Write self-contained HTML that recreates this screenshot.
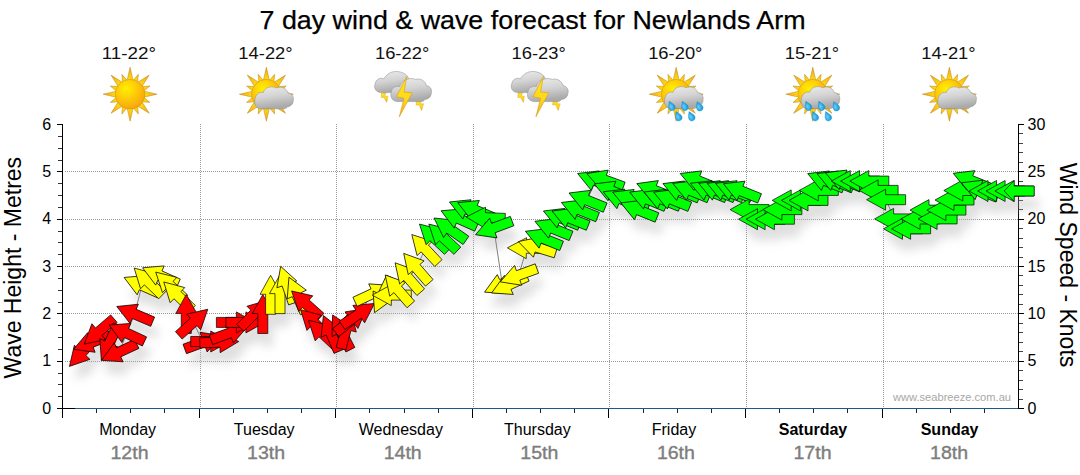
<!DOCTYPE html>
<html><head><meta charset="utf-8"><title>7 day wind &amp; wave forecast for Newlands Arm</title>
<style>html,body{margin:0;padding:0;background:#fff;}body{width:1080px;height:475px;overflow:hidden;font-family:"Liberation Sans",sans-serif;}svg{display:block}text{font-family:"Liberation Sans",sans-serif;}</style>
</head><body>
<svg width="1080" height="475" viewBox="0 0 1080 475">
<defs>
<filter id="sh" x="-5%" y="-30%" width="110%" height="160%"><feGaussianBlur stdDeviation="5"/></filter>
<path id="ar" d="M15,0 L5,-10.5 L5,-5 L-15,-5 L-15,5 L5,5 L5,10.5 Z"/>
<radialGradient id="gsun" cx="0.38" cy="0.32" r="0.75"><stop offset="0" stop-color="#fff000"/><stop offset="0.45" stop-color="#ffcb08"/><stop offset="1" stop-color="#f5a010"/></radialGradient><radialGradient id="gray" gradientUnits="userSpaceOnUse" cx="0" cy="0" r="27"><stop offset="0.5" stop-color="#ffdc18"/><stop offset="0.78" stop-color="#fbbc14"/><stop offset="1" stop-color="#f09c10"/></radialGradient><linearGradient id="gcl" x1="0" y1="0" x2="0.25" y2="1"><stop offset="0" stop-color="#ececec"/><stop offset="0.5" stop-color="#d4d4d4"/><stop offset="1" stop-color="#aaaaaa"/></linearGradient><linearGradient id="gbolt" x1="0" y1="0" x2="0" y2="1"><stop offset="0" stop-color="#ffe31a"/><stop offset="0.55" stop-color="#ffd91a"/><stop offset="1" stop-color="#f2a81c"/></linearGradient><radialGradient id="gdrop" cx="0.4" cy="0.55" r="0.7"><stop offset="0" stop-color="#6fd0f5"/><stop offset="0.6" stop-color="#22a6e4"/><stop offset="1" stop-color="#0f86c8"/></radialGradient><filter id="isoft" x="-10%" y="-10%" width="120%" height="120%"><feGaussianBlur stdDeviation="0.35"/></filter><g id="sun"><path d="M-3.03,-13.87 L0.00,-27.00 L3.03,-13.87 L3.14,-13.85 L8.23,-19.86 L7.58,-12.01 L7.67,-11.95 L19.09,-19.09 L11.95,-7.67 L12.01,-7.58 L19.86,-8.23 L13.85,-3.14 L13.87,-3.03 L27.00,0.00 L13.87,3.03 L13.85,3.14 L19.86,8.23 L12.01,7.58 L11.95,7.67 L19.09,19.09 L7.67,11.95 L7.58,12.01 L8.23,19.86 L3.14,13.85 L3.03,13.87 L0.00,27.00 L-3.03,13.87 L-3.14,13.85 L-8.23,19.86 L-7.58,12.01 L-7.67,11.95 L-19.09,19.09 L-11.95,7.67 L-12.01,7.58 L-19.86,8.23 L-13.85,3.14 L-13.87,3.03 L-27.00,0.00 L-13.87,-3.03 L-13.85,-3.14 L-19.86,-8.23 L-12.01,-7.58 L-11.95,-7.67 L-19.09,-19.09 L-7.67,-11.95 L-7.58,-12.01 L-8.23,-19.86 L-3.14,-13.85Z" fill="url(#gray)" stroke="#b88a18" stroke-width="0.5" stroke-linejoin="miter"/><circle r="14.8" fill="url(#gsun)" stroke="#c89018" stroke-width="0.5"/></g><path id="cloud" d="M-4.5,14.6 C-9.5,14.6 -11.6,10.5 -11,6 C-10.6,0.5 -6.5,-3 -2.6,-1.6 C-1.2,-6.8 5.5,-8.8 10.5,-6.2 C14,-8 20.5,-7 22.2,-1.2 C26.2,-0.8 28.4,2.8 27.4,6.2 C27.6,10 24.5,12.2 21.8,12.6 C20.8,14.2 19,14.6 17.5,14.6 Z" fill="url(#gcl)" stroke="#8a8a8a" stroke-width="0.5"/><path id="drop" d="M0,-4.6 C1.2,-2.4 3,-0.6 3,1.6 C3,3.4 1.7,4.6 0,4.6 C-1.7,4.6 -3,3.4 -3,1.6 C-3,-0.6 -1.2,-2.4 0,-4.6Z" fill="url(#gdrop)" stroke="#1480c0" stroke-width="0.3" transform="rotate(-25) scale(1.08)"/><g id="thunder"><path d="M-21.5,-1.2 L-17,-1.2 L-18.4,2.2 L-15.2,2.2 L-16.2,8.4 L-19,3.4 L-21.8,3.4 Z" fill="url(#gbolt)" stroke="#d8a020" stroke-width="0.4"/><path d="M-22,-1.4 C-27,-1.6 -29.6,-6 -27.8,-10.2 C-27.4,-14.6 -22.6,-16.8 -19,-15.2 C-16.4,-21 -8.6,-24.4 -1.4,-21.6 C3.4,-20.4 6.2,-16.4 6.4,-12 C8,-6 4,-1.4 -1,-1.4 Z" fill="url(#gcl)" stroke="#8a8a8a" stroke-width="0.5"/><path d="M13.4,7 L18.4,7 L17.2,9.8 L20.6,9.8 L18.6,16.6 L16.2,11 L13,11 Z" fill="url(#gbolt)" stroke="#d8a020" stroke-width="0.4"/><path d="M-5,7.6 C-10.6,7.6 -13.2,3 -11.8,-1.4 C-11.4,-6 -7.4,-8.6 -3.4,-7.4 C-1.6,-13 5.4,-17.4 12.6,-14.6 C16.6,-16 22.4,-13.6 23.4,-8.4 C27.6,-7.8 29.6,-3.6 28.2,-0.2 C28,3 25,5.4 22,5.4 C21,7.2 18.6,7.6 17,7.6 Z" fill="url(#gcl)" stroke="#8a8a8a" stroke-width="0.5"/><path d="M3.8,-17.6 L-6.6,2.7 L1,4.3 L-3.7,22.8 L9.2,-1.2 L1,-1.9 Z" fill="url(#gbolt)" stroke="#d89c18" stroke-width="0.6" stroke-linejoin="round"/></g>
</defs>
<rect width="1080" height="475" fill="#fff"/>
<g stroke="#989898" stroke-width="1" stroke-dasharray="1 1" shape-rendering="crispEdges"><line x1="200.5" y1="124" x2="200.5" y2="408"/><line x1="336.5" y1="124" x2="336.5" y2="408"/><line x1="473.5" y1="124" x2="473.5" y2="408"/><line x1="609.5" y1="124" x2="609.5" y2="408"/><line x1="746.5" y1="124" x2="746.5" y2="408"/><line x1="883.5" y1="124" x2="883.5" y2="408"/><line x1="65" y1="361.5" x2="1018" y2="361.5"/><line x1="65" y1="313.5" x2="1018" y2="313.5"/><line x1="65" y1="266.5" x2="1018" y2="266.5"/><line x1="65" y1="219.5" x2="1018" y2="219.5"/><line x1="65" y1="171.5" x2="1018" y2="171.5"/></g>
<text x="1011" y="401" text-anchor="end" font-size="11" fill="#a8a8a8" textLength="118" lengthAdjust="spacingAndGlyphs">www.seabreeze.com.au</text>
<g shape-rendering="crispEdges"><rect x="62" y="124" width="1" height="285" fill="#000"/><rect x="57" y="408" width="5" height="1" fill="#000"/><rect x="58" y="396" width="4" height="1" fill="#333"/><rect x="58" y="384" width="4" height="1" fill="#333"/><rect x="58" y="373" width="4" height="1" fill="#333"/><rect x="57" y="361" width="5" height="1" fill="#000"/><rect x="58" y="349" width="4" height="1" fill="#333"/><rect x="58" y="337" width="4" height="1" fill="#333"/><rect x="58" y="325" width="4" height="1" fill="#333"/><rect x="57" y="313" width="5" height="1" fill="#000"/><rect x="58" y="302" width="4" height="1" fill="#333"/><rect x="58" y="290" width="4" height="1" fill="#333"/><rect x="58" y="278" width="4" height="1" fill="#333"/><rect x="57" y="266" width="5" height="1" fill="#000"/><rect x="58" y="254" width="4" height="1" fill="#333"/><rect x="58" y="242" width="4" height="1" fill="#333"/><rect x="58" y="231" width="4" height="1" fill="#333"/><rect x="57" y="219" width="5" height="1" fill="#000"/><rect x="58" y="207" width="4" height="1" fill="#333"/><rect x="58" y="195" width="4" height="1" fill="#333"/><rect x="58" y="183" width="4" height="1" fill="#333"/><rect x="57" y="171" width="5" height="1" fill="#000"/><rect x="58" y="160" width="4" height="1" fill="#333"/><rect x="58" y="148" width="4" height="1" fill="#333"/><rect x="58" y="136" width="4" height="1" fill="#333"/><rect x="57" y="124" width="5" height="1" fill="#000"/><rect x="1018" y="124" width="1" height="285" fill="#000"/><rect x="1019" y="408" width="5" height="1" fill="#000"/><rect x="1019" y="399" width="4" height="1" fill="#444"/><rect x="1019" y="389" width="4" height="1" fill="#444"/><rect x="1019" y="380" width="4" height="1" fill="#444"/><rect x="1019" y="370" width="4" height="1" fill="#444"/><rect x="1019" y="361" width="5" height="1" fill="#000"/><rect x="1019" y="351" width="4" height="1" fill="#444"/><rect x="1019" y="342" width="4" height="1" fill="#444"/><rect x="1019" y="332" width="4" height="1" fill="#444"/><rect x="1019" y="323" width="4" height="1" fill="#444"/><rect x="1019" y="313" width="5" height="1" fill="#000"/><rect x="1019" y="304" width="4" height="1" fill="#444"/><rect x="1019" y="294" width="4" height="1" fill="#444"/><rect x="1019" y="285" width="4" height="1" fill="#444"/><rect x="1019" y="275" width="4" height="1" fill="#444"/><rect x="1019" y="266" width="5" height="1" fill="#000"/><rect x="1019" y="257" width="4" height="1" fill="#444"/><rect x="1019" y="247" width="4" height="1" fill="#444"/><rect x="1019" y="238" width="4" height="1" fill="#444"/><rect x="1019" y="228" width="4" height="1" fill="#444"/><rect x="1019" y="219" width="5" height="1" fill="#000"/><rect x="1019" y="209" width="4" height="1" fill="#444"/><rect x="1019" y="200" width="4" height="1" fill="#444"/><rect x="1019" y="190" width="4" height="1" fill="#444"/><rect x="1019" y="181" width="4" height="1" fill="#444"/><rect x="1019" y="171" width="5" height="1" fill="#000"/><rect x="1019" y="162" width="4" height="1" fill="#444"/><rect x="1019" y="152" width="4" height="1" fill="#444"/><rect x="1019" y="143" width="4" height="1" fill="#444"/><rect x="1019" y="133" width="4" height="1" fill="#444"/><rect x="1019" y="124" width="5" height="1" fill="#000"/><rect x="57" y="408" width="961" height="1" fill="#000"/><rect x="75" y="407.8" width="943" height="1.3" fill="#1d5a88"/><rect x="62" y="409" width="1" height="9" fill="#000"/><rect x="96" y="409" width="1" height="4" fill="#222"/><rect x="130" y="409" width="1" height="4" fill="#222"/><rect x="164" y="409" width="1" height="4" fill="#222"/><rect x="199" y="409" width="1" height="9" fill="#000"/><rect x="233" y="409" width="1" height="4" fill="#222"/><rect x="267" y="409" width="1" height="4" fill="#222"/><rect x="301" y="409" width="1" height="4" fill="#222"/><rect x="335" y="409" width="1" height="9" fill="#000"/><rect x="369" y="409" width="1" height="4" fill="#222"/><rect x="404" y="409" width="1" height="4" fill="#222"/><rect x="438" y="409" width="1" height="4" fill="#222"/><rect x="472" y="409" width="1" height="9" fill="#000"/><rect x="506" y="409" width="1" height="4" fill="#222"/><rect x="540" y="409" width="1" height="4" fill="#222"/><rect x="574" y="409" width="1" height="4" fill="#222"/><rect x="608" y="409" width="1" height="9" fill="#000"/><rect x="643" y="409" width="1" height="4" fill="#222"/><rect x="677" y="409" width="1" height="4" fill="#222"/><rect x="711" y="409" width="1" height="4" fill="#222"/><rect x="745" y="409" width="1" height="9" fill="#000"/><rect x="779" y="409" width="1" height="4" fill="#222"/><rect x="813" y="409" width="1" height="4" fill="#222"/><rect x="847" y="409" width="1" height="4" fill="#222"/><rect x="882" y="409" width="1" height="9" fill="#000"/><rect x="916" y="409" width="1" height="4" fill="#222"/><rect x="950" y="409" width="1" height="4" fill="#222"/><rect x="984" y="409" width="1" height="4" fill="#222"/></g>
<g font-size="16" fill="#000"><text x="51.2" y="413.5" text-anchor="end">0</text><text x="1027.5" y="413.5">0</text><text x="51.2" y="366.2" text-anchor="end">1</text><text x="1027.5" y="366.2">5</text><text x="51.2" y="318.8" text-anchor="end">2</text><text x="1027.5" y="318.8">10</text><text x="51.2" y="271.5" text-anchor="end">3</text><text x="1027.5" y="271.5">15</text><text x="51.2" y="224.2" text-anchor="end">4</text><text x="1027.5" y="224.2">20</text><text x="51.2" y="176.8" text-anchor="end">5</text><text x="1027.5" y="176.8">25</text><text x="51.2" y="129.5" text-anchor="end">6</text><text x="1027.5" y="129.5">30</text></g>
<text transform="translate(20.5,267.7) rotate(-90)" text-anchor="middle" font-size="23" fill="#000">Wave Height - Metres</text>
<text transform="translate(1060,265) rotate(90)" text-anchor="middle" font-size="23" fill="#000">Wind Speed - Knots</text>
<text x="259.5" y="28.6" font-size="26.5" fill="#000" stroke="#000" stroke-width="0.25" textLength="546" lengthAdjust="spacingAndGlyphs">7 day wind &amp; wave forecast for Newlands Arm</text>
<text x="127.6" y="435.3" text-anchor="middle" font-size="16" fill="#000">Monday</text>
<text x="129.5" y="459.1" text-anchor="middle" font-size="17.5" fill="#7d7d7d" stroke="#7d7d7d" stroke-width="0.35" textLength="38" lengthAdjust="spacingAndGlyphs">12th</text>
<text x="128.9" y="59" text-anchor="middle" font-size="16.2" fill="#111" textLength="54.3" lengthAdjust="spacingAndGlyphs">11-22°</text>
<use href="#sun" x="130.1" y="94.2"/>
<text x="264.2" y="435.3" text-anchor="middle" font-size="16" fill="#000">Tuesday</text>
<text x="266.1" y="459.1" text-anchor="middle" font-size="17.5" fill="#7d7d7d" stroke="#7d7d7d" stroke-width="0.35" textLength="38" lengthAdjust="spacingAndGlyphs">13th</text>
<text x="265.5" y="59" text-anchor="middle" font-size="16.2" fill="#111" textLength="54.3" lengthAdjust="spacingAndGlyphs">14-22°</text>
<use href="#sun" x="266.4" y="94.2"/><use href="#cloud" x="265.8" y="94.2"/>
<text x="400.8" y="435.3" text-anchor="middle" font-size="16" fill="#000">Wednesday</text>
<text x="402.7" y="459.1" text-anchor="middle" font-size="17.5" fill="#7d7d7d" stroke="#7d7d7d" stroke-width="0.35" textLength="38" lengthAdjust="spacingAndGlyphs">14th</text>
<text x="402.1" y="59" text-anchor="middle" font-size="16.2" fill="#111" textLength="54.3" lengthAdjust="spacingAndGlyphs">16-22°</text>
<use href="#thunder" x="403.0" y="94"/>
<text x="537.4" y="435.3" text-anchor="middle" font-size="16" fill="#000">Thursday</text>
<text x="539.3" y="459.1" text-anchor="middle" font-size="17.5" fill="#7d7d7d" stroke="#7d7d7d" stroke-width="0.35" textLength="38" lengthAdjust="spacingAndGlyphs">15th</text>
<text x="538.7" y="59" text-anchor="middle" font-size="16.2" fill="#111" textLength="54.3" lengthAdjust="spacingAndGlyphs">16-23°</text>
<use href="#thunder" x="539.6" y="94"/>
<text x="674.0" y="435.3" text-anchor="middle" font-size="16" fill="#000">Friday</text>
<text x="675.9" y="459.1" text-anchor="middle" font-size="17.5" fill="#7d7d7d" stroke="#7d7d7d" stroke-width="0.35" textLength="38" lengthAdjust="spacingAndGlyphs">16th</text>
<text x="675.3" y="59" text-anchor="middle" font-size="16.2" fill="#111" textLength="54.3" lengthAdjust="spacingAndGlyphs">16-20°</text>
<use href="#sun" x="676.2" y="94.2"/><use href="#cloud" x="675.6" y="93.9"/><use href="#drop" x="0" y="0" transform="translate(671.3,105.8)"/><use href="#drop" x="0" y="0" transform="translate(684.3,105.8)"/><use href="#drop" x="0" y="0" transform="translate(699.1,106.2)"/><use href="#drop" x="0" y="0" transform="translate(678.1,116.1)"/><use href="#drop" x="0" y="0" transform="translate(691.1,116.1)"/>
<text x="813.0" y="435.3" text-anchor="middle" font-size="16" fill="#000" font-weight="bold">Saturday</text>
<text x="812.5" y="459.1" text-anchor="middle" font-size="17.5" fill="#7d7d7d" stroke="#7d7d7d" stroke-width="0.35" textLength="38" lengthAdjust="spacingAndGlyphs">17th</text>
<text x="811.9" y="59" text-anchor="middle" font-size="16.2" fill="#111" textLength="54.3" lengthAdjust="spacingAndGlyphs">15-21°</text>
<use href="#sun" x="812.8000000000001" y="94.2"/><use href="#cloud" x="812.2" y="93.9"/><use href="#drop" x="0" y="0" transform="translate(807.9,105.8)"/><use href="#drop" x="0" y="0" transform="translate(820.9,105.8)"/><use href="#drop" x="0" y="0" transform="translate(835.7,106.2)"/><use href="#drop" x="0" y="0" transform="translate(814.7,116.1)"/><use href="#drop" x="0" y="0" transform="translate(827.7,116.1)"/>
<text x="949.6" y="435.3" text-anchor="middle" font-size="16" fill="#000" font-weight="bold">Sunday</text>
<text x="949.1" y="459.1" text-anchor="middle" font-size="17.5" fill="#7d7d7d" stroke="#7d7d7d" stroke-width="0.35" textLength="38" lengthAdjust="spacingAndGlyphs">18th</text>
<text x="948.5" y="59" text-anchor="middle" font-size="16.2" fill="#111" textLength="54.3" lengthAdjust="spacingAndGlyphs">14-21°</text>
<use href="#sun" x="949.4000000000001" y="94.2"/><use href="#cloud" x="948.8000000000001" y="94.2"/>
<g fill="#b0b0b0" opacity="0.4" filter="url(#sh)"><path d="M19.5,0 L0.5,-10.5 L0.5,-5 L-19.5,-5 L-19.5,5 L0.5,5 L0.5,10.5 Z" transform="translate(87.5,364.9) rotate(132)"/><path d="M19.5,0 L0.5,-10.5 L0.5,-5 L-19.5,-5 L-19.5,5 L0.5,5 L0.5,10.5 Z" transform="translate(96.8,355.3) rotate(159)"/><path d="M19.5,0 L0.5,-10.5 L0.5,-5 L-19.5,-5 L-19.5,5 L0.5,5 L0.5,10.5 Z" transform="translate(104.1,344.4) rotate(139.5)"/><path d="M19.5,0 L0.5,-10.5 L0.5,-5 L-19.5,-5 L-19.5,5 L0.5,5 L0.5,10.5 Z" transform="translate(114.6,355.6) rotate(115)"/><path d="M19.5,0 L0.5,-10.5 L0.5,-5 L-19.5,-5 L-19.5,5 L0.5,5 L0.5,10.5 Z" transform="translate(124.1,365.1) rotate(155)"/><path d="M19.5,0 L0.5,-10.5 L0.5,-5 L-19.5,-5 L-19.5,5 L0.5,5 L0.5,10.5 Z" transform="translate(131.8,346.2) rotate(205)"/><path d="M19.5,0 L0.5,-10.5 L0.5,-5 L-19.5,-5 L-19.5,5 L0.5,5 L0.5,10.5 Z" transform="translate(139.7,327.1) rotate(203)"/><path d="M19.5,0 L0.5,-10.5 L0.5,-5 L-19.5,-5 L-19.5,5 L0.5,5 L0.5,10.5 Z" transform="translate(146.9,298.4) rotate(204)"/><path d="M19.5,0 L0.5,-10.5 L0.5,-5 L-19.5,-5 L-19.5,5 L0.5,5 L0.5,10.5 Z" transform="translate(153.2,294.6) rotate(224)"/><path d="M19.5,0 L0.5,-10.5 L0.5,-5 L-19.5,-5 L-19.5,5 L0.5,5 L0.5,10.5 Z" transform="translate(165.4,288.7) rotate(204)"/><path d="M19.5,0 L0.5,-10.5 L0.5,-5 L-19.5,-5 L-19.5,5 L0.5,5 L0.5,10.5 Z" transform="translate(175.0,298.4) rotate(223)"/><path d="M19.5,0 L0.5,-10.5 L0.5,-5 L-19.5,-5 L-19.5,5 L0.5,5 L0.5,10.5 Z" transform="translate(182.8,308.5) rotate(224)"/><path d="M19.5,0 L0.5,-10.5 L0.5,-5 L-19.5,-5 L-19.5,5 L0.5,5 L0.5,10.5 Z" transform="translate(191.3,326.9) rotate(270)"/><path d="M19.5,0 L0.5,-10.5 L0.5,-5 L-19.5,-5 L-19.5,5 L0.5,5 L0.5,10.5 Z" transform="translate(198.3,335.3) rotate(318)"/><path d="M19.5,0 L0.5,-10.5 L0.5,-5 L-19.5,-5 L-19.5,5 L0.5,5 L0.5,10.5 Z" transform="translate(208.1,355.3) rotate(340)"/><path d="M19.5,0 L0.5,-10.5 L0.5,-5 L-19.5,-5 L-19.5,5 L0.5,5 L0.5,10.5 Z" transform="translate(215.2,354.5) rotate(0)"/><path d="M19.5,0 L0.5,-10.5 L0.5,-5 L-19.5,-5 L-19.5,5 L0.5,5 L0.5,10.5 Z" transform="translate(224.3,355.2) rotate(358)"/><path d="M19.5,0 L0.5,-10.5 L0.5,-5 L-19.5,-5 L-19.5,5 L0.5,5 L0.5,10.5 Z" transform="translate(234.3,346.2) rotate(340)"/><path d="M19.5,0 L0.5,-10.5 L0.5,-5 L-19.5,-5 L-19.5,5 L0.5,5 L0.5,10.5 Z" transform="translate(240.9,335.4) rotate(0)"/><path d="M19.5,0 L0.5,-10.5 L0.5,-5 L-19.5,-5 L-19.5,5 L0.5,5 L0.5,10.5 Z" transform="translate(250.4,335.4) rotate(0)"/><path d="M19.5,0 L0.5,-10.5 L0.5,-5 L-19.5,-5 L-19.5,5 L0.5,5 L0.5,10.5 Z" transform="translate(259.0,327.0) rotate(315)"/><path d="M19.5,0 L0.5,-10.5 L0.5,-5 L-19.5,-5 L-19.5,5 L0.5,5 L0.5,10.5 Z" transform="translate(267.8,327.0) rotate(270)"/><path d="M19.5,0 L0.5,-10.5 L0.5,-5 L-19.5,-5 L-19.5,5 L0.5,5 L0.5,10.5 Z" transform="translate(275.6,307.8) rotate(270)"/><path d="M19.5,0 L0.5,-10.5 L0.5,-5 L-19.5,-5 L-19.5,5 L0.5,5 L0.5,10.5 Z" transform="translate(285.0,307.1) rotate(270)"/><path d="M19.5,0 L0.5,-10.5 L0.5,-5 L-19.5,-5 L-19.5,5 L0.5,5 L0.5,10.5 Z" transform="translate(292.0,297.8) rotate(251)"/><path d="M19.5,0 L0.5,-10.5 L0.5,-5 L-19.5,-5 L-19.5,5 L0.5,5 L0.5,10.5 Z" transform="translate(302.0,308.0) rotate(245.6)"/><path d="M19.5,0 L0.5,-10.5 L0.5,-5 L-19.5,-5 L-19.5,5 L0.5,5 L0.5,10.5 Z" transform="translate(311.1,317.0) rotate(222)"/><path d="M19.5,0 L0.5,-10.5 L0.5,-5 L-19.5,-5 L-19.5,5 L0.5,5 L0.5,10.5 Z" transform="translate(319.6,336.2) rotate(224)"/><path d="M19.5,0 L0.5,-10.5 L0.5,-5 L-19.5,-5 L-19.5,5 L0.5,5 L0.5,10.5 Z" transform="translate(327.7,346.5) rotate(223)"/><path d="M19.5,0 L0.5,-10.5 L0.5,-5 L-19.5,-5 L-19.5,5 L0.5,5 L0.5,10.5 Z" transform="translate(336.0,346.5) rotate(247)"/><path d="M19.5,0 L0.5,-10.5 L0.5,-5 L-19.5,-5 L-19.5,5 L0.5,5 L0.5,10.5 Z" transform="translate(346.5,345.3) rotate(243)"/><path d="M19.5,0 L0.5,-10.5 L0.5,-5 L-19.5,-5 L-19.5,5 L0.5,5 L0.5,10.5 Z" transform="translate(351.0,342.8) rotate(285)"/><path d="M19.5,0 L0.5,-10.5 L0.5,-5 L-19.5,-5 L-19.5,5 L0.5,5 L0.5,10.5 Z" transform="translate(356.1,333.5) rotate(322)"/><path d="M19.5,0 L0.5,-10.5 L0.5,-5 L-19.5,-5 L-19.5,5 L0.5,5 L0.5,10.5 Z" transform="translate(363.3,327.4) rotate(326)"/><path d="M19.5,0 L0.5,-10.5 L0.5,-5 L-19.5,-5 L-19.5,5 L0.5,5 L0.5,10.5 Z" transform="translate(377.7,306.6) rotate(335)"/><path d="M19.5,0 L0.5,-10.5 L0.5,-5 L-19.5,-5 L-19.5,5 L0.5,5 L0.5,10.5 Z" transform="translate(387.8,308.0) rotate(115)"/><path d="M19.5,0 L0.5,-10.5 L0.5,-5 L-19.5,-5 L-19.5,5 L0.5,5 L0.5,10.5 Z" transform="translate(396.8,308.1) rotate(180)"/><path d="M19.5,0 L0.5,-10.5 L0.5,-5 L-19.5,-5 L-19.5,5 L0.5,5 L0.5,10.5 Z" transform="translate(403.0,302.7) rotate(229)"/><path d="M19.5,0 L0.5,-10.5 L0.5,-5 L-19.5,-5 L-19.5,5 L0.5,5 L0.5,10.5 Z" transform="translate(412.9,290.5) rotate(229)"/><path d="M19.5,0 L0.5,-10.5 L0.5,-5 L-19.5,-5 L-19.5,5 L0.5,5 L0.5,10.5 Z" transform="translate(421.5,281.1) rotate(229)"/><path d="M19.5,0 L0.5,-10.5 L0.5,-5 L-19.5,-5 L-19.5,5 L0.5,5 L0.5,10.5 Z" transform="translate(430.1,261.8) rotate(227)"/><path d="M19.5,0 L0.5,-10.5 L0.5,-5 L-19.5,-5 L-19.5,5 L0.5,5 L0.5,10.5 Z" transform="translate(438.7,250.4) rotate(223)"/><path d="M19.5,0 L0.5,-10.5 L0.5,-5 L-19.5,-5 L-19.5,5 L0.5,5 L0.5,10.5 Z" transform="translate(448.1,250.4) rotate(223)"/><path d="M19.5,0 L0.5,-10.5 L0.5,-5 L-19.5,-5 L-19.5,5 L0.5,5 L0.5,10.5 Z" transform="translate(455.0,242.2) rotate(215)"/><path d="M19.5,0 L0.5,-10.5 L0.5,-5 L-19.5,-5 L-19.5,5 L0.5,5 L0.5,10.5 Z" transform="translate(463.9,231.7) rotate(204)"/><path d="M19.5,0 L0.5,-10.5 L0.5,-5 L-19.5,-5 L-19.5,5 L0.5,5 L0.5,10.5 Z" transform="translate(472.4,222.6) rotate(203)"/><path d="M19.5,0 L0.5,-10.5 L0.5,-5 L-19.5,-5 L-19.5,5 L0.5,5 L0.5,10.5 Z" transform="translate(480.7,223.3) rotate(203)"/><path d="M19.5,0 L0.5,-10.5 L0.5,-5 L-19.5,-5 L-19.5,5 L0.5,5 L0.5,10.5 Z" transform="translate(490.7,230.7) rotate(182)"/><path d="M19.5,0 L0.5,-10.5 L0.5,-5 L-19.5,-5 L-19.5,5 L0.5,5 L0.5,10.5 Z" transform="translate(498.8,240.9) rotate(159.5)"/><path d="M19.5,0 L0.5,-10.5 L0.5,-5 L-19.5,-5 L-19.5,5 L0.5,5 L0.5,10.5 Z" transform="translate(507.2,296.9) rotate(155)"/><path d="M19.5,0 L0.5,-10.5 L0.5,-5 L-19.5,-5 L-19.5,5 L0.5,5 L0.5,10.5 Z" transform="translate(514.3,297.7) rotate(155)"/><path d="M19.5,0 L0.5,-10.5 L0.5,-5 L-19.5,-5 L-19.5,5 L0.5,5 L0.5,10.5 Z" transform="translate(523.6,288.2) rotate(160)"/><path d="M19.5,0 L0.5,-10.5 L0.5,-5 L-19.5,-5 L-19.5,5 L0.5,5 L0.5,10.5 Z" transform="translate(531.9,261.2) rotate(181)"/><path d="M19.5,0 L0.5,-10.5 L0.5,-5 L-19.5,-5 L-19.5,5 L0.5,5 L0.5,10.5 Z" transform="translate(542.0,260.3) rotate(197)"/><path d="M19.5,0 L0.5,-10.5 L0.5,-5 L-19.5,-5 L-19.5,5 L0.5,5 L0.5,10.5 Z" transform="translate(548.5,251.6) rotate(202)"/><path d="M19.5,0 L0.5,-10.5 L0.5,-5 L-19.5,-5 L-19.5,5 L0.5,5 L0.5,10.5 Z" transform="translate(558.0,241.6) rotate(202)"/><path d="M19.5,0 L0.5,-10.5 L0.5,-5 L-19.5,-5 L-19.5,5 L0.5,5 L0.5,10.5 Z" transform="translate(566.5,231.3) rotate(202)"/><path d="M19.5,0 L0.5,-10.5 L0.5,-5 L-19.5,-5 L-19.5,5 L0.5,5 L0.5,10.5 Z" transform="translate(575.1,231.3) rotate(202)"/><path d="M19.5,0 L0.5,-10.5 L0.5,-5 L-19.5,-5 L-19.5,5 L0.5,5 L0.5,10.5 Z" transform="translate(584.5,222.8) rotate(202)"/><path d="M19.5,0 L0.5,-10.5 L0.5,-5 L-19.5,-5 L-19.5,5 L0.5,5 L0.5,10.5 Z" transform="translate(592.1,213.3) rotate(202)"/><path d="M19.5,0 L0.5,-10.5 L0.5,-5 L-19.5,-5 L-19.5,5 L0.5,5 L0.5,10.5 Z" transform="translate(600.7,193.8) rotate(202)"/><path d="M19.5,0 L0.5,-10.5 L0.5,-5 L-19.5,-5 L-19.5,5 L0.5,5 L0.5,10.5 Z" transform="translate(610.1,193.2) rotate(200)"/><path d="M19.5,0 L0.5,-10.5 L0.5,-5 L-19.5,-5 L-19.5,5 L0.5,5 L0.5,10.5 Z" transform="translate(617.4,204.2) rotate(202)"/><path d="M19.5,0 L0.5,-10.5 L0.5,-5 L-19.5,-5 L-19.5,5 L0.5,5 L0.5,10.5 Z" transform="translate(626.3,212.1) rotate(202)"/><path d="M19.5,0 L0.5,-10.5 L0.5,-5 L-19.5,-5 L-19.5,5 L0.5,5 L0.5,10.5 Z" transform="translate(635.7,212.4) rotate(202)"/><path d="M19.5,0 L0.5,-10.5 L0.5,-5 L-19.5,-5 L-19.5,5 L0.5,5 L0.5,10.5 Z" transform="translate(643.9,223.2) rotate(202)"/><path d="M19.5,0 L0.5,-10.5 L0.5,-5 L-19.5,-5 L-19.5,5 L0.5,5 L0.5,10.5 Z" transform="translate(652.8,212.4) rotate(202)"/><path d="M19.5,0 L0.5,-10.5 L0.5,-5 L-19.5,-5 L-19.5,5 L0.5,5 L0.5,10.5 Z" transform="translate(660.0,203.6) rotate(201)"/><path d="M19.5,0 L0.5,-10.5 L0.5,-5 L-19.5,-5 L-19.5,5 L0.5,5 L0.5,10.5 Z" transform="translate(667.1,212.3) rotate(202)"/><path d="M19.5,0 L0.5,-10.5 L0.5,-5 L-19.5,-5 L-19.5,5 L0.5,5 L0.5,10.5 Z" transform="translate(676.7,212.4) rotate(202)"/><path d="M19.5,0 L0.5,-10.5 L0.5,-5 L-19.5,-5 L-19.5,5 L0.5,5 L0.5,10.5 Z" transform="translate(686.0,203.9) rotate(202)"/><path d="M19.5,0 L0.5,-10.5 L0.5,-5 L-19.5,-5 L-19.5,5 L0.5,5 L0.5,10.5 Z" transform="translate(695.9,203.7) rotate(202)"/><path d="M19.5,0 L0.5,-10.5 L0.5,-5 L-19.5,-5 L-19.5,5 L0.5,5 L0.5,10.5 Z" transform="translate(703.3,193.8) rotate(202)"/><path d="M19.5,0 L0.5,-10.5 L0.5,-5 L-19.5,-5 L-19.5,5 L0.5,5 L0.5,10.5 Z" transform="translate(713.4,203.6) rotate(202)"/><path d="M19.5,0 L0.5,-10.5 L0.5,-5 L-19.5,-5 L-19.5,5 L0.5,5 L0.5,10.5 Z" transform="translate(721.8,203.6) rotate(202)"/><path d="M19.5,0 L0.5,-10.5 L0.5,-5 L-19.5,-5 L-19.5,5 L0.5,5 L0.5,10.5 Z" transform="translate(730.2,203.6) rotate(202)"/><path d="M19.5,0 L0.5,-10.5 L0.5,-5 L-19.5,-5 L-19.5,5 L0.5,5 L0.5,10.5 Z" transform="translate(738.6,203.6) rotate(202)"/><path d="M19.5,0 L0.5,-10.5 L0.5,-5 L-19.5,-5 L-19.5,5 L0.5,5 L0.5,10.5 Z" transform="translate(746.5,204.1) rotate(202)"/><path d="M19.5,0 L0.5,-10.5 L0.5,-5 L-19.5,-5 L-19.5,5 L0.5,5 L0.5,10.5 Z" transform="translate(754.6,222.6) rotate(180)"/><path d="M19.5,0 L0.5,-10.5 L0.5,-5 L-19.5,-5 L-19.5,5 L0.5,5 L0.5,10.5 Z" transform="translate(763.0,232.2) rotate(180)"/><path d="M19.5,0 L0.5,-10.5 L0.5,-5 L-19.5,-5 L-19.5,5 L0.5,5 L0.5,10.5 Z" transform="translate(770.6,232.2) rotate(180)"/><path d="M19.5,0 L0.5,-10.5 L0.5,-5 L-19.5,-5 L-19.5,5 L0.5,5 L0.5,10.5 Z" transform="translate(779.9,232.2) rotate(180)"/><path d="M19.5,0 L0.5,-10.5 L0.5,-5 L-19.5,-5 L-19.5,5 L0.5,5 L0.5,10.5 Z" transform="translate(787.4,222.6) rotate(180)"/><path d="M19.5,0 L0.5,-10.5 L0.5,-5 L-19.5,-5 L-19.5,5 L0.5,5 L0.5,10.5 Z" transform="translate(796.7,213.4) rotate(180)"/><path d="M19.5,0 L0.5,-10.5 L0.5,-5 L-19.5,-5 L-19.5,5 L0.5,5 L0.5,10.5 Z" transform="translate(805.9,213.4) rotate(180)"/><path d="M19.5,0 L0.5,-10.5 L0.5,-5 L-19.5,-5 L-19.5,5 L0.5,5 L0.5,10.5 Z" transform="translate(813.5,213.4) rotate(180)"/><path d="M19.5,0 L0.5,-10.5 L0.5,-5 L-19.5,-5 L-19.5,5 L0.5,5 L0.5,10.5 Z" transform="translate(823.8,203.4) rotate(180)"/><path d="M19.5,0 L0.5,-10.5 L0.5,-5 L-19.5,-5 L-19.5,5 L0.5,5 L0.5,10.5 Z" transform="translate(830.8,193.9) rotate(202)"/><path d="M19.5,0 L0.5,-10.5 L0.5,-5 L-19.5,-5 L-19.5,5 L0.5,5 L0.5,10.5 Z" transform="translate(840.1,193.9) rotate(202)"/><path d="M19.5,0 L0.5,-10.5 L0.5,-5 L-19.5,-5 L-19.5,5 L0.5,5 L0.5,10.5 Z" transform="translate(848.5,193.0) rotate(202)"/><path d="M19.5,0 L0.5,-10.5 L0.5,-5 L-19.5,-5 L-19.5,5 L0.5,5 L0.5,10.5 Z" transform="translate(855.8,194.1) rotate(180)"/><path d="M19.5,0 L0.5,-10.5 L0.5,-5 L-19.5,-5 L-19.5,5 L0.5,5 L0.5,10.5 Z" transform="translate(865.1,194.1) rotate(180)"/><path d="M19.5,0 L0.5,-10.5 L0.5,-5 L-19.5,-5 L-19.5,5 L0.5,5 L0.5,10.5 Z" transform="translate(874.3,194.1) rotate(180)"/><path d="M19.5,0 L0.5,-10.5 L0.5,-5 L-19.5,-5 L-19.5,5 L0.5,5 L0.5,10.5 Z" transform="translate(883.6,203.4) rotate(180)"/><path d="M19.5,0 L0.5,-10.5 L0.5,-5 L-19.5,-5 L-19.5,5 L0.5,5 L0.5,10.5 Z" transform="translate(891.1,212.7) rotate(180)"/><path d="M19.5,0 L0.5,-10.5 L0.5,-5 L-19.5,-5 L-19.5,5 L0.5,5 L0.5,10.5 Z" transform="translate(899.1,231.9) rotate(180)"/><path d="M19.5,0 L0.5,-10.5 L0.5,-5 L-19.5,-5 L-19.5,5 L0.5,5 L0.5,10.5 Z" transform="translate(908.0,241.8) rotate(180)"/><path d="M19.5,0 L0.5,-10.5 L0.5,-5 L-19.5,-5 L-19.5,5 L0.5,5 L0.5,10.5 Z" transform="translate(916.1,241.8) rotate(180)"/><path d="M19.5,0 L0.5,-10.5 L0.5,-5 L-19.5,-5 L-19.5,5 L0.5,5 L0.5,10.5 Z" transform="translate(925.6,231.9) rotate(180)"/><path d="M19.5,0 L0.5,-10.5 L0.5,-5 L-19.5,-5 L-19.5,5 L0.5,5 L0.5,10.5 Z" transform="translate(934.5,223.1) rotate(180)"/><path d="M19.5,0 L0.5,-10.5 L0.5,-5 L-19.5,-5 L-19.5,5 L0.5,5 L0.5,10.5 Z" transform="translate(942.6,231.9) rotate(180)"/><path d="M19.5,0 L0.5,-10.5 L0.5,-5 L-19.5,-5 L-19.5,5 L0.5,5 L0.5,10.5 Z" transform="translate(951.4,223.1) rotate(180)"/><path d="M19.5,0 L0.5,-10.5 L0.5,-5 L-19.5,-5 L-19.5,5 L0.5,5 L0.5,10.5 Z" transform="translate(959.5,213.0) rotate(180)"/><path d="M19.5,0 L0.5,-10.5 L0.5,-5 L-19.5,-5 L-19.5,5 L0.5,5 L0.5,10.5 Z" transform="translate(968.3,203.5) rotate(180)"/><path d="M19.5,0 L0.5,-10.5 L0.5,-5 L-19.5,-5 L-19.5,5 L0.5,5 L0.5,10.5 Z" transform="translate(976.3,193.6) rotate(202)"/><path d="M19.5,0 L0.5,-10.5 L0.5,-5 L-19.5,-5 L-19.5,5 L0.5,5 L0.5,10.5 Z" transform="translate(984.5,203.1) rotate(202)"/><path d="M19.5,0 L0.5,-10.5 L0.5,-5 L-19.5,-5 L-19.5,5 L0.5,5 L0.5,10.5 Z" transform="translate(993.5,204.0) rotate(180)"/><path d="M19.5,0 L0.5,-10.5 L0.5,-5 L-19.5,-5 L-19.5,5 L0.5,5 L0.5,10.5 Z" transform="translate(1002.1,204.0) rotate(180)"/><path d="M19.5,0 L0.5,-10.5 L0.5,-5 L-19.5,-5 L-19.5,5 L0.5,5 L0.5,10.5 Z" transform="translate(1010.6,204.0) rotate(180)"/><path d="M19.5,0 L0.5,-10.5 L0.5,-5 L-19.5,-5 L-19.5,5 L0.5,5 L0.5,10.5 Z" transform="translate(1019.4,204.0) rotate(180)"/><path d="M15.0,0 L5.0,-10.5 L5.0,-5 L-15.0,-5 L-15.0,5 L5.0,5 L5.0,10.5 Z" transform="translate(1024.2,204.0) rotate(180)"/></g>
<polyline fill="none" stroke="#808080" stroke-width="1" points="82.5,351.9 91.8,342.3 99.1,331.4 109.6,342.6 119.1,352.1 126.8,333.2 134.7,314.1 141.9,285.4 148.2,281.6 160.4,275.7 170.0,285.4 177.8,295.5 186.3,313.9 193.3,322.3 203.1,342.3 210.2,341.5 219.3,342.2 229.3,333.2 235.9,322.4 245.4,322.4 254.0,314.0 262.8,314.0 270.6,294.8 280.0,294.1 287.0,284.8 297.0,295.0 306.1,304.0 314.6,323.2 322.7,333.5 331.0,333.5 341.5,332.3 346.0,329.8 351.1,320.5 358.3,314.4 372.7,293.6 382.8,295.0 391.8,295.1 398.0,289.7 407.9,277.5 416.5,268.1 425.1,248.8 433.7,237.4 443.1,237.4 450.0,229.2 458.9,218.7 467.4,209.6 475.7,210.3 485.7,217.7 493.8,227.9 502.2,283.9 509.3,284.7 518.6,275.2 526.9,248.2 537.0,247.3 543.5,238.6 553.0,228.6 561.5,218.3 570.1,218.3 579.5,209.8 587.1,200.3 595.7,180.8 605.1,180.2 612.4,191.2 621.3,199.1 630.7,199.4 638.9,210.2 647.8,199.4 655.0,190.6 662.1,199.3 671.7,199.4 681.0,190.9 690.9,190.7 698.3,180.8 708.4,190.6 716.8,190.6 725.2,190.6 733.6,190.6 741.5,191.1 749.6,209.6 758.0,219.2 765.6,219.2 774.9,219.2 782.4,209.6 791.7,200.4 800.9,200.4 808.5,200.4 818.8,190.4 825.8,180.9 835.1,180.9 843.5,180.0 850.8,181.1 860.1,181.1 869.3,181.1 878.6,190.4 886.1,199.7 894.1,218.9 903.0,228.8 911.1,228.8 920.6,218.9 929.5,210.1 937.6,218.9 946.4,210.1 954.5,200.0 963.3,190.5 971.3,180.6 979.5,190.1 988.5,191.0 997.1,191.0 1005.6,191.0 1014.4,191.0 1019.2,191.0"/>
<g stroke="#000" stroke-width="0.7" stroke-linejoin="miter"><path d="M19.5,0 L0.5,-10.5 L0.5,-5 L-19.5,-5 L-19.5,5 L0.5,5 L0.5,10.5 Z" fill="#ff0000" transform="translate(82.5,351.9) rotate(132)"/><path d="M19.5,0 L0.5,-10.5 L0.5,-5 L-19.5,-5 L-19.5,5 L0.5,5 L0.5,10.5 Z" fill="#ff0000" transform="translate(91.8,342.3) rotate(159)"/><path d="M19.5,0 L0.5,-10.5 L0.5,-5 L-19.5,-5 L-19.5,5 L0.5,5 L0.5,10.5 Z" fill="#ff0000" transform="translate(99.1,331.4) rotate(139.5)"/><path d="M19.5,0 L0.5,-10.5 L0.5,-5 L-19.5,-5 L-19.5,5 L0.5,5 L0.5,10.5 Z" fill="#ff0000" transform="translate(109.6,342.6) rotate(115)"/><path d="M19.5,0 L0.5,-10.5 L0.5,-5 L-19.5,-5 L-19.5,5 L0.5,5 L0.5,10.5 Z" fill="#ff0000" transform="translate(119.1,352.1) rotate(155)"/><path d="M19.5,0 L0.5,-10.5 L0.5,-5 L-19.5,-5 L-19.5,5 L0.5,5 L0.5,10.5 Z" fill="#ff0000" transform="translate(126.8,333.2) rotate(205)"/><path d="M19.5,0 L0.5,-10.5 L0.5,-5 L-19.5,-5 L-19.5,5 L0.5,5 L0.5,10.5 Z" fill="#ff0000" transform="translate(134.7,314.1) rotate(203)"/><path d="M19.5,0 L0.5,-10.5 L0.5,-5 L-19.5,-5 L-19.5,5 L0.5,5 L0.5,10.5 Z" fill="#ffff00" transform="translate(141.9,285.4) rotate(204)"/><path d="M19.5,0 L0.5,-10.5 L0.5,-5 L-19.5,-5 L-19.5,5 L0.5,5 L0.5,10.5 Z" fill="#ffff00" transform="translate(148.2,281.6) rotate(224)"/><path d="M19.5,0 L0.5,-10.5 L0.5,-5 L-19.5,-5 L-19.5,5 L0.5,5 L0.5,10.5 Z" fill="#ffff00" transform="translate(160.4,275.7) rotate(204)"/><path d="M19.5,0 L0.5,-10.5 L0.5,-5 L-19.5,-5 L-19.5,5 L0.5,5 L0.5,10.5 Z" fill="#ffff00" transform="translate(170.0,285.4) rotate(223)"/><path d="M19.5,0 L0.5,-10.5 L0.5,-5 L-19.5,-5 L-19.5,5 L0.5,5 L0.5,10.5 Z" fill="#ffff00" transform="translate(177.8,295.5) rotate(224)"/><path d="M19.5,0 L0.5,-10.5 L0.5,-5 L-19.5,-5 L-19.5,5 L0.5,5 L0.5,10.5 Z" fill="#ff0000" transform="translate(186.3,313.9) rotate(270)"/><path d="M19.5,0 L0.5,-10.5 L0.5,-5 L-19.5,-5 L-19.5,5 L0.5,5 L0.5,10.5 Z" fill="#ff0000" transform="translate(193.3,322.3) rotate(318)"/><path d="M19.5,0 L0.5,-10.5 L0.5,-5 L-19.5,-5 L-19.5,5 L0.5,5 L0.5,10.5 Z" fill="#ff0000" transform="translate(203.1,342.3) rotate(340)"/><path d="M19.5,0 L0.5,-10.5 L0.5,-5 L-19.5,-5 L-19.5,5 L0.5,5 L0.5,10.5 Z" fill="#ff0000" transform="translate(210.2,341.5) rotate(0)"/><path d="M19.5,0 L0.5,-10.5 L0.5,-5 L-19.5,-5 L-19.5,5 L0.5,5 L0.5,10.5 Z" fill="#ff0000" transform="translate(219.3,342.2) rotate(358)"/><path d="M19.5,0 L0.5,-10.5 L0.5,-5 L-19.5,-5 L-19.5,5 L0.5,5 L0.5,10.5 Z" fill="#ff0000" transform="translate(229.3,333.2) rotate(340)"/><path d="M19.5,0 L0.5,-10.5 L0.5,-5 L-19.5,-5 L-19.5,5 L0.5,5 L0.5,10.5 Z" fill="#ff0000" transform="translate(235.9,322.4) rotate(0)"/><path d="M19.5,0 L0.5,-10.5 L0.5,-5 L-19.5,-5 L-19.5,5 L0.5,5 L0.5,10.5 Z" fill="#ff0000" transform="translate(245.4,322.4) rotate(0)"/><path d="M19.5,0 L0.5,-10.5 L0.5,-5 L-19.5,-5 L-19.5,5 L0.5,5 L0.5,10.5 Z" fill="#ff0000" transform="translate(254.0,314.0) rotate(315)"/><path d="M19.5,0 L0.5,-10.5 L0.5,-5 L-19.5,-5 L-19.5,5 L0.5,5 L0.5,10.5 Z" fill="#ff0000" transform="translate(262.8,314.0) rotate(270)"/><path d="M19.5,0 L0.5,-10.5 L0.5,-5 L-19.5,-5 L-19.5,5 L0.5,5 L0.5,10.5 Z" fill="#ffff00" transform="translate(270.6,294.8) rotate(270)"/><path d="M19.5,0 L0.5,-10.5 L0.5,-5 L-19.5,-5 L-19.5,5 L0.5,5 L0.5,10.5 Z" fill="#ffff00" transform="translate(280.0,294.1) rotate(270)"/><path d="M19.5,0 L0.5,-10.5 L0.5,-5 L-19.5,-5 L-19.5,5 L0.5,5 L0.5,10.5 Z" fill="#ffff00" transform="translate(287.0,284.8) rotate(251)"/><path d="M19.5,0 L0.5,-10.5 L0.5,-5 L-19.5,-5 L-19.5,5 L0.5,5 L0.5,10.5 Z" fill="#ffff00" transform="translate(297.0,295.0) rotate(245.6)"/><path d="M19.5,0 L0.5,-10.5 L0.5,-5 L-19.5,-5 L-19.5,5 L0.5,5 L0.5,10.5 Z" fill="#ff0000" transform="translate(306.1,304.0) rotate(222)"/><path d="M19.5,0 L0.5,-10.5 L0.5,-5 L-19.5,-5 L-19.5,5 L0.5,5 L0.5,10.5 Z" fill="#ff0000" transform="translate(314.6,323.2) rotate(224)"/><path d="M19.5,0 L0.5,-10.5 L0.5,-5 L-19.5,-5 L-19.5,5 L0.5,5 L0.5,10.5 Z" fill="#ff0000" transform="translate(322.7,333.5) rotate(223)"/><path d="M19.5,0 L0.5,-10.5 L0.5,-5 L-19.5,-5 L-19.5,5 L0.5,5 L0.5,10.5 Z" fill="#ff0000" transform="translate(331.0,333.5) rotate(247)"/><path d="M19.5,0 L0.5,-10.5 L0.5,-5 L-19.5,-5 L-19.5,5 L0.5,5 L0.5,10.5 Z" fill="#ff0000" transform="translate(341.5,332.3) rotate(243)"/><path d="M19.5,0 L0.5,-10.5 L0.5,-5 L-19.5,-5 L-19.5,5 L0.5,5 L0.5,10.5 Z" fill="#ff0000" transform="translate(346.0,329.8) rotate(285)"/><path d="M19.5,0 L0.5,-10.5 L0.5,-5 L-19.5,-5 L-19.5,5 L0.5,5 L0.5,10.5 Z" fill="#ff0000" transform="translate(351.1,320.5) rotate(322)"/><path d="M19.5,0 L0.5,-10.5 L0.5,-5 L-19.5,-5 L-19.5,5 L0.5,5 L0.5,10.5 Z" fill="#ff0000" transform="translate(358.3,314.4) rotate(326)"/><path d="M19.5,0 L0.5,-10.5 L0.5,-5 L-19.5,-5 L-19.5,5 L0.5,5 L0.5,10.5 Z" fill="#ffff00" transform="translate(372.7,293.6) rotate(335)"/><path d="M19.5,0 L0.5,-10.5 L0.5,-5 L-19.5,-5 L-19.5,5 L0.5,5 L0.5,10.5 Z" fill="#ffff00" transform="translate(382.8,295.0) rotate(115)"/><path d="M19.5,0 L0.5,-10.5 L0.5,-5 L-19.5,-5 L-19.5,5 L0.5,5 L0.5,10.5 Z" fill="#ffff00" transform="translate(391.8,295.1) rotate(180)"/><path d="M19.5,0 L0.5,-10.5 L0.5,-5 L-19.5,-5 L-19.5,5 L0.5,5 L0.5,10.5 Z" fill="#ffff00" transform="translate(398.0,289.7) rotate(229)"/><path d="M19.5,0 L0.5,-10.5 L0.5,-5 L-19.5,-5 L-19.5,5 L0.5,5 L0.5,10.5 Z" fill="#ffff00" transform="translate(407.9,277.5) rotate(229)"/><path d="M19.5,0 L0.5,-10.5 L0.5,-5 L-19.5,-5 L-19.5,5 L0.5,5 L0.5,10.5 Z" fill="#ffff00" transform="translate(416.5,268.1) rotate(229)"/><path d="M19.5,0 L0.5,-10.5 L0.5,-5 L-19.5,-5 L-19.5,5 L0.5,5 L0.5,10.5 Z" fill="#ffff00" transform="translate(425.1,248.8) rotate(227)"/><path d="M19.5,0 L0.5,-10.5 L0.5,-5 L-19.5,-5 L-19.5,5 L0.5,5 L0.5,10.5 Z" fill="#00ff00" transform="translate(433.7,237.4) rotate(223)"/><path d="M19.5,0 L0.5,-10.5 L0.5,-5 L-19.5,-5 L-19.5,5 L0.5,5 L0.5,10.5 Z" fill="#00ff00" transform="translate(443.1,237.4) rotate(223)"/><path d="M19.5,0 L0.5,-10.5 L0.5,-5 L-19.5,-5 L-19.5,5 L0.5,5 L0.5,10.5 Z" fill="#00ff00" transform="translate(450.0,229.2) rotate(215)"/><path d="M19.5,0 L0.5,-10.5 L0.5,-5 L-19.5,-5 L-19.5,5 L0.5,5 L0.5,10.5 Z" fill="#00ff00" transform="translate(458.9,218.7) rotate(204)"/><path d="M19.5,0 L0.5,-10.5 L0.5,-5 L-19.5,-5 L-19.5,5 L0.5,5 L0.5,10.5 Z" fill="#00ff00" transform="translate(467.4,209.6) rotate(203)"/><path d="M19.5,0 L0.5,-10.5 L0.5,-5 L-19.5,-5 L-19.5,5 L0.5,5 L0.5,10.5 Z" fill="#00ff00" transform="translate(475.7,210.3) rotate(203)"/><path d="M19.5,0 L0.5,-10.5 L0.5,-5 L-19.5,-5 L-19.5,5 L0.5,5 L0.5,10.5 Z" fill="#00ff00" transform="translate(485.7,217.7) rotate(182)"/><path d="M19.5,0 L0.5,-10.5 L0.5,-5 L-19.5,-5 L-19.5,5 L0.5,5 L0.5,10.5 Z" fill="#00ff00" transform="translate(493.8,227.9) rotate(159.5)"/><path d="M19.5,0 L0.5,-10.5 L0.5,-5 L-19.5,-5 L-19.5,5 L0.5,5 L0.5,10.5 Z" fill="#ffff00" transform="translate(502.2,283.9) rotate(155)"/><path d="M19.5,0 L0.5,-10.5 L0.5,-5 L-19.5,-5 L-19.5,5 L0.5,5 L0.5,10.5 Z" fill="#ffff00" transform="translate(509.3,284.7) rotate(155)"/><path d="M19.5,0 L0.5,-10.5 L0.5,-5 L-19.5,-5 L-19.5,5 L0.5,5 L0.5,10.5 Z" fill="#ffff00" transform="translate(518.6,275.2) rotate(160)"/><path d="M19.5,0 L0.5,-10.5 L0.5,-5 L-19.5,-5 L-19.5,5 L0.5,5 L0.5,10.5 Z" fill="#ffff00" transform="translate(526.9,248.2) rotate(181)"/><path d="M19.5,0 L0.5,-10.5 L0.5,-5 L-19.5,-5 L-19.5,5 L0.5,5 L0.5,10.5 Z" fill="#ffff00" transform="translate(537.0,247.3) rotate(197)"/><path d="M19.5,0 L0.5,-10.5 L0.5,-5 L-19.5,-5 L-19.5,5 L0.5,5 L0.5,10.5 Z" fill="#00ff00" transform="translate(543.5,238.6) rotate(202)"/><path d="M19.5,0 L0.5,-10.5 L0.5,-5 L-19.5,-5 L-19.5,5 L0.5,5 L0.5,10.5 Z" fill="#00ff00" transform="translate(553.0,228.6) rotate(202)"/><path d="M19.5,0 L0.5,-10.5 L0.5,-5 L-19.5,-5 L-19.5,5 L0.5,5 L0.5,10.5 Z" fill="#00ff00" transform="translate(561.5,218.3) rotate(202)"/><path d="M19.5,0 L0.5,-10.5 L0.5,-5 L-19.5,-5 L-19.5,5 L0.5,5 L0.5,10.5 Z" fill="#00ff00" transform="translate(570.1,218.3) rotate(202)"/><path d="M19.5,0 L0.5,-10.5 L0.5,-5 L-19.5,-5 L-19.5,5 L0.5,5 L0.5,10.5 Z" fill="#00ff00" transform="translate(579.5,209.8) rotate(202)"/><path d="M19.5,0 L0.5,-10.5 L0.5,-5 L-19.5,-5 L-19.5,5 L0.5,5 L0.5,10.5 Z" fill="#00ff00" transform="translate(587.1,200.3) rotate(202)"/><path d="M19.5,0 L0.5,-10.5 L0.5,-5 L-19.5,-5 L-19.5,5 L0.5,5 L0.5,10.5 Z" fill="#00ff00" transform="translate(595.7,180.8) rotate(202)"/><path d="M19.5,0 L0.5,-10.5 L0.5,-5 L-19.5,-5 L-19.5,5 L0.5,5 L0.5,10.5 Z" fill="#00ff00" transform="translate(605.1,180.2) rotate(200)"/><path d="M19.5,0 L0.5,-10.5 L0.5,-5 L-19.5,-5 L-19.5,5 L0.5,5 L0.5,10.5 Z" fill="#00ff00" transform="translate(612.4,191.2) rotate(202)"/><path d="M19.5,0 L0.5,-10.5 L0.5,-5 L-19.5,-5 L-19.5,5 L0.5,5 L0.5,10.5 Z" fill="#00ff00" transform="translate(621.3,199.1) rotate(202)"/><path d="M19.5,0 L0.5,-10.5 L0.5,-5 L-19.5,-5 L-19.5,5 L0.5,5 L0.5,10.5 Z" fill="#00ff00" transform="translate(630.7,199.4) rotate(202)"/><path d="M19.5,0 L0.5,-10.5 L0.5,-5 L-19.5,-5 L-19.5,5 L0.5,5 L0.5,10.5 Z" fill="#00ff00" transform="translate(638.9,210.2) rotate(202)"/><path d="M19.5,0 L0.5,-10.5 L0.5,-5 L-19.5,-5 L-19.5,5 L0.5,5 L0.5,10.5 Z" fill="#00ff00" transform="translate(647.8,199.4) rotate(202)"/><path d="M19.5,0 L0.5,-10.5 L0.5,-5 L-19.5,-5 L-19.5,5 L0.5,5 L0.5,10.5 Z" fill="#00ff00" transform="translate(655.0,190.6) rotate(201)"/><path d="M19.5,0 L0.5,-10.5 L0.5,-5 L-19.5,-5 L-19.5,5 L0.5,5 L0.5,10.5 Z" fill="#00ff00" transform="translate(662.1,199.3) rotate(202)"/><path d="M19.5,0 L0.5,-10.5 L0.5,-5 L-19.5,-5 L-19.5,5 L0.5,5 L0.5,10.5 Z" fill="#00ff00" transform="translate(671.7,199.4) rotate(202)"/><path d="M19.5,0 L0.5,-10.5 L0.5,-5 L-19.5,-5 L-19.5,5 L0.5,5 L0.5,10.5 Z" fill="#00ff00" transform="translate(681.0,190.9) rotate(202)"/><path d="M19.5,0 L0.5,-10.5 L0.5,-5 L-19.5,-5 L-19.5,5 L0.5,5 L0.5,10.5 Z" fill="#00ff00" transform="translate(690.9,190.7) rotate(202)"/><path d="M19.5,0 L0.5,-10.5 L0.5,-5 L-19.5,-5 L-19.5,5 L0.5,5 L0.5,10.5 Z" fill="#00ff00" transform="translate(698.3,180.8) rotate(202)"/><path d="M19.5,0 L0.5,-10.5 L0.5,-5 L-19.5,-5 L-19.5,5 L0.5,5 L0.5,10.5 Z" fill="#00ff00" transform="translate(708.4,190.6) rotate(202)"/><path d="M19.5,0 L0.5,-10.5 L0.5,-5 L-19.5,-5 L-19.5,5 L0.5,5 L0.5,10.5 Z" fill="#00ff00" transform="translate(716.8,190.6) rotate(202)"/><path d="M19.5,0 L0.5,-10.5 L0.5,-5 L-19.5,-5 L-19.5,5 L0.5,5 L0.5,10.5 Z" fill="#00ff00" transform="translate(725.2,190.6) rotate(202)"/><path d="M19.5,0 L0.5,-10.5 L0.5,-5 L-19.5,-5 L-19.5,5 L0.5,5 L0.5,10.5 Z" fill="#00ff00" transform="translate(733.6,190.6) rotate(202)"/><path d="M19.5,0 L0.5,-10.5 L0.5,-5 L-19.5,-5 L-19.5,5 L0.5,5 L0.5,10.5 Z" fill="#00ff00" transform="translate(741.5,191.1) rotate(202)"/><path d="M19.5,0 L0.5,-10.5 L0.5,-5 L-19.5,-5 L-19.5,5 L0.5,5 L0.5,10.5 Z" fill="#00ff00" transform="translate(749.6,209.6) rotate(180)"/><path d="M19.5,0 L0.5,-10.5 L0.5,-5 L-19.5,-5 L-19.5,5 L0.5,5 L0.5,10.5 Z" fill="#00ff00" transform="translate(758.0,219.2) rotate(180)"/><path d="M19.5,0 L0.5,-10.5 L0.5,-5 L-19.5,-5 L-19.5,5 L0.5,5 L0.5,10.5 Z" fill="#00ff00" transform="translate(765.6,219.2) rotate(180)"/><path d="M19.5,0 L0.5,-10.5 L0.5,-5 L-19.5,-5 L-19.5,5 L0.5,5 L0.5,10.5 Z" fill="#00ff00" transform="translate(774.9,219.2) rotate(180)"/><path d="M19.5,0 L0.5,-10.5 L0.5,-5 L-19.5,-5 L-19.5,5 L0.5,5 L0.5,10.5 Z" fill="#00ff00" transform="translate(782.4,209.6) rotate(180)"/><path d="M19.5,0 L0.5,-10.5 L0.5,-5 L-19.5,-5 L-19.5,5 L0.5,5 L0.5,10.5 Z" fill="#00ff00" transform="translate(791.7,200.4) rotate(180)"/><path d="M19.5,0 L0.5,-10.5 L0.5,-5 L-19.5,-5 L-19.5,5 L0.5,5 L0.5,10.5 Z" fill="#00ff00" transform="translate(800.9,200.4) rotate(180)"/><path d="M19.5,0 L0.5,-10.5 L0.5,-5 L-19.5,-5 L-19.5,5 L0.5,5 L0.5,10.5 Z" fill="#00ff00" transform="translate(808.5,200.4) rotate(180)"/><path d="M19.5,0 L0.5,-10.5 L0.5,-5 L-19.5,-5 L-19.5,5 L0.5,5 L0.5,10.5 Z" fill="#00ff00" transform="translate(818.8,190.4) rotate(180)"/><path d="M19.5,0 L0.5,-10.5 L0.5,-5 L-19.5,-5 L-19.5,5 L0.5,5 L0.5,10.5 Z" fill="#00ff00" transform="translate(825.8,180.9) rotate(202)"/><path d="M19.5,0 L0.5,-10.5 L0.5,-5 L-19.5,-5 L-19.5,5 L0.5,5 L0.5,10.5 Z" fill="#00ff00" transform="translate(835.1,180.9) rotate(202)"/><path d="M19.5,0 L0.5,-10.5 L0.5,-5 L-19.5,-5 L-19.5,5 L0.5,5 L0.5,10.5 Z" fill="#00ff00" transform="translate(843.5,180.0) rotate(202)"/><path d="M19.5,0 L0.5,-10.5 L0.5,-5 L-19.5,-5 L-19.5,5 L0.5,5 L0.5,10.5 Z" fill="#00ff00" transform="translate(850.8,181.1) rotate(180)"/><path d="M19.5,0 L0.5,-10.5 L0.5,-5 L-19.5,-5 L-19.5,5 L0.5,5 L0.5,10.5 Z" fill="#00ff00" transform="translate(860.1,181.1) rotate(180)"/><path d="M19.5,0 L0.5,-10.5 L0.5,-5 L-19.5,-5 L-19.5,5 L0.5,5 L0.5,10.5 Z" fill="#00ff00" transform="translate(869.3,181.1) rotate(180)"/><path d="M19.5,0 L0.5,-10.5 L0.5,-5 L-19.5,-5 L-19.5,5 L0.5,5 L0.5,10.5 Z" fill="#00ff00" transform="translate(878.6,190.4) rotate(180)"/><path d="M19.5,0 L0.5,-10.5 L0.5,-5 L-19.5,-5 L-19.5,5 L0.5,5 L0.5,10.5 Z" fill="#00ff00" transform="translate(886.1,199.7) rotate(180)"/><path d="M19.5,0 L0.5,-10.5 L0.5,-5 L-19.5,-5 L-19.5,5 L0.5,5 L0.5,10.5 Z" fill="#00ff00" transform="translate(894.1,218.9) rotate(180)"/><path d="M19.5,0 L0.5,-10.5 L0.5,-5 L-19.5,-5 L-19.5,5 L0.5,5 L0.5,10.5 Z" fill="#00ff00" transform="translate(903.0,228.8) rotate(180)"/><path d="M19.5,0 L0.5,-10.5 L0.5,-5 L-19.5,-5 L-19.5,5 L0.5,5 L0.5,10.5 Z" fill="#00ff00" transform="translate(911.1,228.8) rotate(180)"/><path d="M19.5,0 L0.5,-10.5 L0.5,-5 L-19.5,-5 L-19.5,5 L0.5,5 L0.5,10.5 Z" fill="#00ff00" transform="translate(920.6,218.9) rotate(180)"/><path d="M19.5,0 L0.5,-10.5 L0.5,-5 L-19.5,-5 L-19.5,5 L0.5,5 L0.5,10.5 Z" fill="#00ff00" transform="translate(929.5,210.1) rotate(180)"/><path d="M19.5,0 L0.5,-10.5 L0.5,-5 L-19.5,-5 L-19.5,5 L0.5,5 L0.5,10.5 Z" fill="#00ff00" transform="translate(937.6,218.9) rotate(180)"/><path d="M19.5,0 L0.5,-10.5 L0.5,-5 L-19.5,-5 L-19.5,5 L0.5,5 L0.5,10.5 Z" fill="#00ff00" transform="translate(946.4,210.1) rotate(180)"/><path d="M19.5,0 L0.5,-10.5 L0.5,-5 L-19.5,-5 L-19.5,5 L0.5,5 L0.5,10.5 Z" fill="#00ff00" transform="translate(954.5,200.0) rotate(180)"/><path d="M19.5,0 L0.5,-10.5 L0.5,-5 L-19.5,-5 L-19.5,5 L0.5,5 L0.5,10.5 Z" fill="#00ff00" transform="translate(963.3,190.5) rotate(180)"/><path d="M19.5,0 L0.5,-10.5 L0.5,-5 L-19.5,-5 L-19.5,5 L0.5,5 L0.5,10.5 Z" fill="#00ff00" transform="translate(971.3,180.6) rotate(202)"/><path d="M19.5,0 L0.5,-10.5 L0.5,-5 L-19.5,-5 L-19.5,5 L0.5,5 L0.5,10.5 Z" fill="#00ff00" transform="translate(979.5,190.1) rotate(202)"/><path d="M19.5,0 L0.5,-10.5 L0.5,-5 L-19.5,-5 L-19.5,5 L0.5,5 L0.5,10.5 Z" fill="#00ff00" transform="translate(988.5,191.0) rotate(180)"/><path d="M19.5,0 L0.5,-10.5 L0.5,-5 L-19.5,-5 L-19.5,5 L0.5,5 L0.5,10.5 Z" fill="#00ff00" transform="translate(997.1,191.0) rotate(180)"/><path d="M19.5,0 L0.5,-10.5 L0.5,-5 L-19.5,-5 L-19.5,5 L0.5,5 L0.5,10.5 Z" fill="#00ff00" transform="translate(1005.6,191.0) rotate(180)"/><path d="M19.5,0 L0.5,-10.5 L0.5,-5 L-19.5,-5 L-19.5,5 L0.5,5 L0.5,10.5 Z" fill="#00ff00" transform="translate(1014.4,191.0) rotate(180)"/><path d="M15.0,0 L5.0,-10.5 L5.0,-5 L-15.0,-5 L-15.0,5 L5.0,5 L5.0,10.5 Z" fill="#00ff00" transform="translate(1019.2,191.0) rotate(180)"/></g>
</svg></body></html>
